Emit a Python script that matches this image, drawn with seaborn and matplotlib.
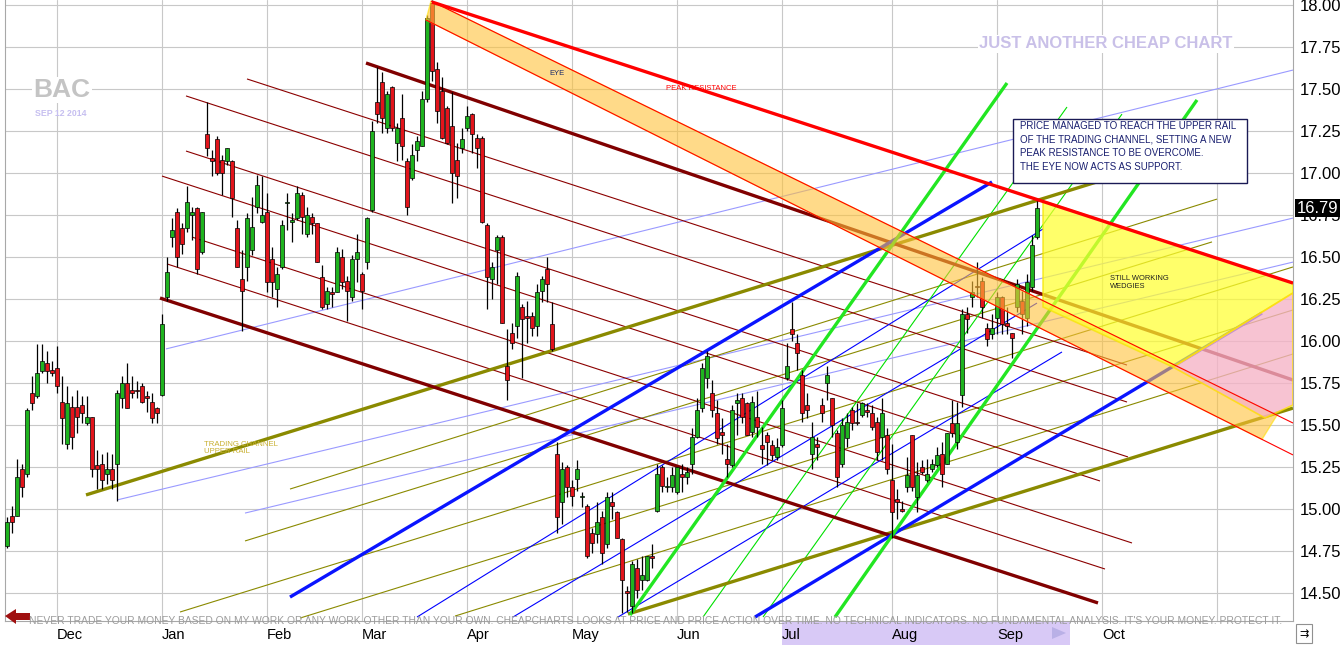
import numpy as np
import pandas as pd
import matplotlib
matplotlib.use("Agg")
import matplotlib.pyplot as plt
import matplotlib.transforms as mtransforms
from matplotlib.patches import Polygon, Rectangle
import seaborn as sns

# ---- price data: trading-day index (0 = first session of Dec 2013) ----
day = list(range(-10, 197))
opens = [14.78, 14.96, 14.96, 15.24, 15.21, 15.69, 15.67, 15.82, 15.87, 15.83,
         15.84, 15.64, 15.39, 15.61, 15.61, 15.62, 15.51, 15.55, 15.26, 15.27,
         15.21, 15.24, 15.27, 15.66, 15.75, 15.71, 15.71, 15.73, 15.67, 15.64,
         15.60, 15.68, 16.26, 16.62, 16.77, 16.67, 16.67, 16.75, 16.79, 16.53,
         17.23, 17.09, 17.20, 17.08, 17.07, 17.07, 16.67, 16.37, 16.44, 16.54,
         16.80, 16.71, 16.77, 16.49, 16.31, 16.44, 16.82, 16.71, 16.73, 16.87,
         16.64, 16.74, 16.70, 16.38, 16.22, 16.29, 16.29, 16.50, 16.36, 16.26,
         16.49, 16.40, 16.47, 16.78, 17.42, 17.54, 17.27, 17.51, 17.18, 17.33,
         17.07, 16.97, 17.14, 17.16, 17.44, 18.01, 17.62, 17.49, 17.39, 17.28,
         17.08, 17.15, 17.27, 17.35, 17.21, 17.21, 16.69, 16.37, 16.54, 16.62,
         15.85, 16.05, 16.09, 16.20, 16.15, 16.15, 16.09, 16.30, 16.43, 16.10,
         15.33, 15.04, 15.25, 15.13, 15.18, 15.07, 15.02, 14.86, 14.85, 14.95,
         14.79, 15.04, 14.98, 14.82, 14.51, 14.42, 14.65, 14.58, 14.58, 14.72,
         14.99, 15.25, 15.13, 15.13, 15.10, 15.21, 15.19, 15.27, 15.43, 15.60,
         15.78, 15.69, 15.57, 15.46, 15.30, 15.26, 15.63, 15.66, 15.63, 15.46,
         15.55, 15.38, 15.44, 15.38, 15.31, 15.38, 15.78, 16.07, 15.99, 15.80,
         15.62, 15.33, 15.39, 15.62, 15.75, 15.66, 15.45, 15.27, 15.42, 15.59,
         15.52, 15.56, 15.59, 15.57, 15.52, 15.43, 15.44, 15.17, 15.06, 15.00,
         15.13, 15.44, 15.07, 15.25, 15.17, 15.24, 15.26, 15.33, 15.27, 15.51,
         15.40, 15.68, 16.16, 16.26, 16.33, 16.36, 16.08, 16.04, 16.14, 16.26,
         16.11, 16.05, 16.20, 16.24, 16.14, 16.32, 16.62]
highs = [14.95, 15.02, 15.30, 15.27, 15.60, 15.79, 15.98, 15.98, 15.94, 15.88,
         15.97, 15.79, 15.73, 15.67, 15.71, 15.67, 15.67, 15.55, 15.35, 15.33,
         15.34, 15.33, 15.71, 15.79, 15.87, 15.79, 15.76, 15.75, 15.70, 15.69,
         15.61, 16.16, 16.50, 16.73, 16.79, 16.70, 16.92, 16.80, 16.80, 16.77,
         17.42, 17.14, 17.22, 17.11, 17.15, 17.08, 16.72, 16.54, 16.76, 16.86,
         16.99, 16.98, 16.88, 16.56, 16.44, 16.72, 16.88, 16.76, 16.92, 16.89,
         16.80, 16.76, 16.70, 16.45, 16.32, 16.32, 16.56, 16.55, 16.39, 16.51,
         16.64, 16.41, 16.74, 17.31, 17.63, 17.60, 17.49, 17.52, 17.30, 17.47,
         17.09, 17.17, 17.22, 17.49, 17.94, 18.03, 17.66, 17.57, 17.40, 17.48,
         17.18, 17.27, 17.40, 17.36, 17.23, 17.22, 16.70, 16.47, 16.63, 16.63,
         16.07, 16.11, 16.41, 16.22, 16.24, 16.17, 16.34, 16.39, 16.50, 16.23,
         15.40, 15.28, 15.26, 15.17, 15.29, 15.10, 15.03, 14.89, 15.04, 14.99,
         15.10, 15.10, 14.99, 14.83, 14.54, 14.69, 14.70, 14.72, 14.72, 14.79,
         15.27, 15.26, 15.19, 15.25, 15.25, 15.27, 15.25, 15.48, 15.66, 15.87,
         15.94, 15.77, 15.65, 15.54, 15.39, 15.62, 15.69, 15.69, 15.64, 15.67,
         15.70, 15.49, 15.46, 15.41, 15.42, 15.65, 15.99, 16.23, 16.04, 15.83,
         15.69, 15.52, 15.43, 15.66, 15.85, 15.66, 15.47, 15.54, 15.57, 15.61,
         15.63, 15.64, 15.63, 15.62, 15.55, 15.66, 15.48, 15.39, 15.12, 15.05,
         15.31, 15.44, 15.28, 15.29, 15.30, 15.30, 15.37, 15.40, 15.45, 15.65,
         15.64, 16.19, 16.20, 16.36, 16.47, 16.38, 16.11, 16.16, 16.29, 16.27,
         16.20, 16.05, 16.37, 16.30, 16.40, 16.63, 16.84]
lows = [14.77, 14.86, 14.96, 15.07, 15.19, 15.59, 15.66, 15.81, 15.75, 15.79,
        15.69, 15.39, 15.36, 15.36, 15.45, 15.51, 15.50, 15.19, 15.12, 15.12,
        15.15, 15.12, 15.05, 15.60, 15.60, 15.66, 15.66, 15.63, 15.58, 15.51,
        15.51, 15.67, 16.24, 16.56, 16.44, 16.52, 16.65, 16.60, 16.40, 16.52,
        17.10, 16.98, 16.99, 16.87, 17.05, 16.74, 16.44, 16.06, 16.36, 16.51,
        16.76, 16.70, 16.29, 16.26, 16.20, 16.43, 16.66, 16.59, 16.72, 16.64,
        16.62, 16.64, 16.47, 16.19, 16.19, 16.20, 16.29, 16.31, 16.12, 16.24,
        16.35, 16.19, 16.43, 16.77, 17.30, 17.24, 17.24, 17.25, 17.07, 17.08,
        16.75, 16.96, 17.07, 17.16, 17.42, 17.55, 17.30, 17.20, 17.17, 16.82,
        16.85, 17.12, 17.25, 17.12, 17.03, 16.70, 16.19, 16.25, 16.34, 16.11,
        15.65, 15.95, 16.02, 15.78, 15.99, 16.03, 16.03, 16.23, 16.23, 15.94,
        14.86, 14.91, 15.07, 15.02, 15.11, 15.01, 14.71, 14.74, 14.80, 14.67,
        14.77, 14.94, 14.83, 14.38, 14.39, 14.38, 14.47, 14.52, 14.57, 14.65,
        14.98, 15.10, 15.10, 15.10, 15.09, 15.10, 15.15, 15.21, 15.42, 15.58,
        15.72, 15.55, 15.39, 15.33, 15.19, 15.25, 15.44, 15.51, 15.44, 15.43,
        15.43, 15.27, 15.26, 15.29, 15.29, 15.37, 15.77, 16.00, 15.83, 15.52,
        15.54, 15.24, 15.29, 15.52, 15.65, 15.43, 15.13, 15.25, 15.37, 15.47,
        15.50, 15.55, 15.55, 15.47, 15.29, 15.29, 15.21, 14.83, 14.94, 14.98,
        15.10, 15.11, 14.98, 15.21, 15.16, 15.22, 15.25, 15.13, 15.27, 15.43,
        15.36, 15.61, 16.05, 16.20, 16.26, 16.14, 15.97, 16.01, 16.04, 16.04,
        16.04, 15.90, 16.17, 16.04, 16.09, 16.30, 16.61]
closes = [14.92, 14.92, 15.19, 15.13, 15.59, 15.63, 15.81, 15.88, 15.82, 15.81,
          15.73, 15.54, 15.63, 15.43, 15.55, 15.57, 15.55, 15.24, 15.24, 15.17,
          15.24, 15.17, 15.69, 15.75, 15.60, 15.69, 15.70, 15.64, 15.66, 15.54,
          15.57, 16.10, 16.41, 16.66, 16.50, 16.58, 16.83, 16.77, 16.43, 16.77,
          17.15, 17.07, 17.00, 17.00, 17.15, 16.85, 16.44, 16.30, 16.73, 16.68,
          16.93, 16.75, 16.35, 16.35, 16.40, 16.69, 16.82, 16.72, 16.88, 16.74,
          16.75, 16.70, 16.47, 16.20, 16.30, 16.28, 16.53, 16.35, 16.30, 16.49,
          16.53, 16.30, 16.73, 17.25, 17.35, 17.33, 17.47, 17.27, 17.27, 17.16,
          16.80, 17.11, 17.19, 17.44, 17.92, 17.61, 17.37, 17.21, 17.18, 17.00,
          16.98, 17.20, 17.34, 17.23, 17.15, 16.71, 16.38, 16.44, 16.62, 16.11,
          15.77, 15.99, 16.39, 16.13, 16.14, 16.08, 16.29, 16.37, 16.34, 15.95,
          14.95, 15.24, 15.13, 15.08, 15.24, 15.08, 14.72, 14.80, 14.92, 14.74,
          15.07, 15.02, 14.83, 14.58, 14.50, 14.67, 14.52, 14.61, 14.72, 14.71,
          15.21, 15.14, 15.14, 15.20, 15.25, 15.19, 15.22, 15.43, 15.59, 15.84,
          15.91, 15.59, 15.42, 15.44, 15.27, 15.59, 15.65, 15.55, 15.44, 15.64,
          15.49, 15.36, 15.40, 15.32, 15.37, 15.60, 15.85, 16.04, 15.93, 15.57,
          15.59, 15.43, 15.37, 15.57, 15.80, 15.50, 15.19, 15.50, 15.52, 15.51,
          15.51, 15.63, 15.58, 15.49, 15.34, 15.57, 15.24, 14.98, 15.04, 14.99,
          15.20, 15.13, 15.20, 15.22, 15.21, 15.27, 15.32, 15.21, 15.45, 15.45,
          15.51, 16.16, 16.13, 16.29, 16.32, 16.20, 16.01, 16.08, 16.26, 16.10,
          16.09, 16.02, 16.34, 16.16, 16.35, 16.57, 16.79]

month_starts = [0, 21, 42, 61, 82, 103, 124, 145, 167, 188, 209, 232]
month_labels = ["Dec", "Jan", "Feb", "Mar", "Apr", "May", "Jun", "Jul", "Aug", "Sep", "Oct", ""]
price_ticks = [14.50, 14.75, 15.00, 15.25, 15.50, 15.75, 16.00, 16.25, 16.50,
               16.75, 17.00, 17.25, 17.50, 17.75, 18.00]
last_price = 16.79

# ---- drawn trend lines: (start day, start price, end day, end price) ----
peak_resistance = [(75.0, 18.018, 247.2, 16.345)]
eye_edges = [(74.8, 18.024, 247.2, 15.512), (73.8, 17.911, 247.2, 15.322)]
maroon_thick = [(61.8, 17.655, 247.2, 15.768), (20.6, 16.256, 208.2, 14.441)]
maroon_thin = [(38.0, 17.560, 214.0, 15.857), (25.8, 17.459, 214.0, 15.637),
               (25.8, 17.131, 214.2, 15.310), (21.0, 16.982, 208.6, 15.167),
               (27.0, 16.619, 215.0, 14.798), (22.0, 16.459, 209.6, 14.643)]
olive_thick = [(5.8, 15.084, 208.6, 16.953), (114.2, 14.375, 247.2, 15.601)]
olive_thin = [(46.6, 15.119, 232.0, 16.845), (37.6, 14.810, 231.0, 16.590),
              (24.6, 14.387, 247.2, 16.441), (48.6, 14.351, 247.2, 16.185),
              (79.6, 14.363, 247.2, 15.923)]
lightblue_thin = [(12.0, 15.054, 247.2, 16.732), (21.8, 15.953, 247.2, 17.613),
                  (37.6, 14.976, 247.2, 16.470)]
blue_thick = [(46.6, 14.476, 187.0, 16.947), (139.6, 14.357, 241.0, 16.167)]
blue_thin = [(72.0, 14.357, 197.2, 16.667), (91.2, 14.357, 196.0, 16.226),
             (112.2, 14.357, 201.0, 15.935)]
green_thick = [(114.6, 14.369, 190.0, 17.536), (155.6, 14.357, 228.0, 17.435)]
green_thin = [(129.2, 14.357, 202.0, 17.393), (141.2, 14.357, 213.0, 17.351)]

eye_fill_end = 244.0
wedge_yellow = [(197.2, 16.834), (247.2, 16.345), (247.2, 16.286), (223.2, 15.845), (197.2, 16.203)]
wedge_pink = [(223.2, 15.845), (247.2, 16.286), (247.2, 15.619), (241.6, 15.542)]

note_text = ("PRICE MANAGED TO REACH THE UPPER RAIL\nOF THE TRADING CHANNEL, SETTING A NEW\n"
             "PEAK RESISTANCE TO BE OVERCOME.\nTHE EYE NOW ACTS AS SUPPORT.")
disclaimer = ("NEVER TRADE YOUR MONEY BASED ON MY WORK OR ANY WORK OTHER THAN YOUR OWN. "
              "CHEAPCHARTS LOOKS AT PRICE AND PRICE ACTION OVER TIME. NO TECHNICAL INDICATORS. "
              "NO FUNDAMENTAL ANALYSIS. IT'S YOUR MONEY. PROTECT IT.")

sns.set_theme(style="white")
plt.rcParams['font.family'] = ['Liberation Sans', 'DejaVu Sans']

W, H = 1341, 645
fig = plt.figure(figsize=(W / 100, H / 100), dpi=100)
fig.patch.set_facecolor('white')
ax = fig.add_axes([5 / W, 1 - 621 / H, 1288 / W, 621 / H])
ax.set_facecolor('white')

df = pd.DataFrame({"day": day, "open": opens, "high": highs, "low": lows, "close": closes})


def draw_lines(segs, color, lw, z=2):
    for x0, y0, x1, y1 in segs:
        ax.plot([x0, x1], [y0, y1], color=color, lw=lw, zorder=z, solid_capstyle='butt')


draw_lines(lightblue_thin, '#9a9aff', 0.8)
draw_lines(olive_thin, '#8a8a00', 0.8)
draw_lines(maroon_thin, '#8b0000', 0.8)
draw_lines(blue_thin, '#0000ff', 0.8)
draw_lines(green_thin, '#00e000', 0.8)
draw_lines(olive_thick, '#8a8a00', 2.4)
draw_lines(maroon_thick, '#800000', 2.4)
draw_lines(blue_thick, '#0a14ff', 2.4)
draw_lines(green_thick, '#22e622', 2.4)

# ---- candles ----
up = df["close"] >= df["open"]
ax.vlines(df["day"], df["low"], df["high"], color='black', lw=0.9, zorder=3)
body = (df["close"] - df["open"]).abs().clip(lower=0.007)
ax.bar(df["day"], body, bottom=np.minimum(df["open"], df["close"]), width=0.62,
       color=np.where(up, '#1fb41f', '#e3141b'), edgecolor='black', lw=0.5, zorder=4)

# ---- eye band, wedges ----
ux = [eye_edges[0][0], eye_edges[0][2]]; uy = [eye_edges[0][1], eye_edges[0][3]]
lx = [eye_edges[1][0], eye_edges[1][2]]; ly = [eye_edges[1][1], eye_edges[1][3]]
band = [(ux[0], uy[0]), (eye_fill_end, np.interp(eye_fill_end, ux, uy)),
        (eye_fill_end - 3, np.interp(eye_fill_end - 3, lx, ly)), (lx[0], ly[0])]
ax.add_patch(Polygon(band, closed=True, fc='#ffc23a', ec='#ffe000', lw=1.0, alpha=0.6, zorder=5))
draw_lines(eye_edges, '#ff0000', 0.8, z=6)
ax.add_patch(Polygon(wedge_yellow, closed=True, fc='#ffff30', ec='#f5e600', lw=1.2, alpha=0.72, zorder=5))
ax.add_patch(Polygon(wedge_pink, closed=True, fc='#f5b3c6', ec='#ffe000', lw=1.2, alpha=0.78, zorder=5))
draw_lines(peak_resistance, '#ff0000', 2.4, z=6)

# ---- labels on chart ----
ax.text(100.0, 17.595, "EYE", fontsize=5.5, color='#1a2a6a', ha='center', va='center', zorder=7)
ax.text(128.8, 17.506, "PEAK RESISTANCE", fontsize=5.5, color='#ff0000', ha='center', va='center', zorder=7)
ax.text(29.4, 15.363, "TRADING CHANNEL\nUPPER RAIL", fontsize=5.6, color='#c8b030',
        ha='left', va='center', linespacing=1.1, zorder=7)
ax.text(210.6, 16.351, "STILL WORKING\nWEDGIES", fontsize=5.4, color='#202020',
        ha='left', va='center', linespacing=1.2, zorder=7)

# ---- axes ----
ax.set_xlim(-10.4, 247.2)
ax.set_ylim(18.03 - 621 / 168, 18.03)
ax.yaxis.tick_right()
ax.set_yticks(price_ticks)
ax.set_yticklabels([f"{v:.2f}" for v in price_ticks])
ax.set_xticks(month_starts)
ax.set_xticklabels(month_labels, ha='left')
ax.tick_params(axis='y', length=0, pad=5, labelsize=12, labelcolor='black')
ax.tick_params(axis='x', length=0, pad=5, labelsize=10.5, labelcolor='black')
ax.grid(True, color='#c8c8c8', lw=0.8, zorder=0)
ax.set_axisbelow(True)
for side in ['left', 'right', 'bottom']:
    ax.spines[side].set_color('#a8a8a8')
    ax.spines[side].set_linewidth(0.8)
ax.spines['top'].set_visible(False)

# last price marker
trans = mtransforms.blended_transform_factory(ax.transAxes, ax.transData)
ax.text(1.0 + 4 / 1288, last_price, f"{last_price:.2f}", transform=trans, fontsize=12,
        color='white', ha='left', va='center', clip_on=False, zorder=10,
        bbox=dict(fc='black', ec='none', pad=1.2))

# ---- watermark / titles ----
fig.text(62 / W, 1 - 90 / H, "BAC", fontsize=19, fontweight='bold', color='#c4c4c4',
         ha='center', va='center', bbox=dict(fc='white', ec='none', pad=1))
fig.text(61 / W, 1 - 113 / H, "SEP 12 2014", fontsize=6.3, fontweight='bold', color='#c6bff0',
         ha='center', va='center')
fig.text(1106 / W, 1 - 44 / H, "JUST ANOTHER CHEAP CHART", fontsize=12, fontweight='bold',
         color='#c9c0e8', ha='center', va='center', bbox=dict(fc='white', ec='none', pad=1))

# note box
fig.add_artist(Rectangle((1013 / W, 1 - 183 / H), 234 / W, 64 / H, transform=fig.transFigure,
                         fc='white', ec='#1a1a55', lw=1.0, zorder=5))
fig.text(1020 / W, 1 - 121 / H, note_text, fontsize=7, color='#1a2070', ha='left', va='top',
         linespacing=1.45, zorder=6)

# ---- bottom strip ----
fig.add_artist(Rectangle((782 / W, 0), 288 / W, 23 / H, transform=fig.transFigure,
                         fc='#d8c9f6', ec='none', zorder=-1))
fig.add_artist(Polygon([(1052 / W, 6 / H), (1066 / W, 12 / H), (1052 / W, 18 / H)], closed=True,
                       transform=fig.transFigure, fc='#b9b0e6', ec='none', zorder=-1))
fig.add_artist(Polygon([(5 / W, 1 - 616 / H), (16 / W, 1 - 609 / H), (16 / W, 1 - 613 / H),
                        (30 / W, 1 - 613 / H), (30 / W, 1 - 620 / H), (16 / W, 1 - 620 / H),
                        (16 / W, 1 - 624 / H)], closed=True, transform=fig.transFigure,
                       fc='#a01010', ec='none', zorder=6))
fig.text(29 / W, 1 - 621.5 / H, disclaimer, fontsize=7.37, color='#9c9c9c', ha='left', va='center', zorder=6)
fig.add_artist(Rectangle((1296 / W, 2 / H), 16 / W, 19 / H, transform=fig.transFigure,
                         fc='white', ec='#909090', lw=0.8, zorder=6))
fig.text(1304 / W, 11 / H, "\u21c9", fontsize=8, color='black', ha='center', va='center',
         family=['DejaVu Sans'], zorder=7)

fig.savefig("out.png", dpi=100)
